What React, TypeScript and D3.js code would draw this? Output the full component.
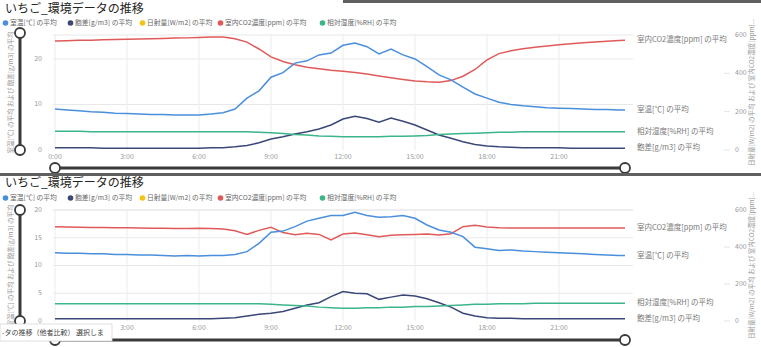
import React from 'react';
import * as d3 from 'd3';

const HOURS = [0, 0.5, 1, 1.5, 2, 2.5, 3, 3.5, 4, 4.5, 5, 5.5, 6, 6.5, 7, 7.5, 8, 8.5, 9, 9.5, 10, 10.5, 11, 11.5, 12, 12.5, 13, 13.5, 14, 14.5, 15, 15.5, 16, 16.5, 17, 17.5, 18, 18.5, 19, 19.5, 20, 20.5, 21, 21.5, 22, 22.5, 23, 23.5, 23.75];
const X_TICKS = [0, 3, 6, 9, 12, 15, 18, 21];
const X_TICK_LABELS = ['0:00', '3:00', '6:00', '9:00', '12:00', '15:00', '18:00', '21:00'];
const RIGHT_TICKS = [0, 200, 400, 600];

const TITLE = 'いちご_環境データの推移';
const LEGEND = ['室温[℃] の平均', '飽差[g/m3] の平均', '日射量[W/m2] の平均', '室内CO2濃度[ppm] の平均', '相対湿度[%RH] の平均'];
const LEGEND_X = [3, 68, 140, 218, 320];
const SERIES_LABELS = { temp: '室温[℃] の平均', def: '飽差[g/m3] の平均', co2: '室内CO2濃度[ppm] の平均', rh: '相対湿度[%RH] の平均' };
const LEFT_TITLE = '室温[℃] の平均 および 飽差[g/m3] の平均';
const RIGHT_TITLE = '日射量[W/m2] の平均 および 室内CO2濃度[ppm]...';
const TOOLTIP = '-タの推移（他者比較） 選択しま';

// Chart 1
const C1_TEMP = [9.0, 8.8, 8.6, 8.4, 8.3, 8.1, 8.0, 7.9, 7.8, 7.8, 7.7, 7.7, 7.7, 7.9, 8.2, 9.0, 11.4, 13.0, 16.0, 17.0, 19.1, 19.6, 20.9, 21.3, 23.0, 23.5, 22.7, 21.1, 22.2, 20.9, 20.0, 18.3, 16.5, 15.4, 13.8, 12.3, 11.4, 10.5, 10.0, 9.7, 9.5, 9.3, 9.2, 9.1, 9.0, 8.9, 8.9, 8.8, 8.8];
const C1_DEF = [0.5, 0.5, 0.5, 0.5, 0.4, 0.4, 0.4, 0.4, 0.4, 0.4, 0.4, 0.4, 0.4, 0.5, 0.5, 0.7, 1.0, 1.6, 2.4, 2.9, 3.5, 4.0, 4.6, 5.5, 6.8, 7.4, 6.9, 6.1, 7.0, 6.3, 5.5, 4.4, 3.3, 2.6, 1.8, 1.2, 0.9, 0.7, 0.6, 0.5, 0.5, 0.5, 0.5, 0.4, 0.4, 0.4, 0.4, 0.4, 0.4];
const C1_CO2 = [569, 570, 572, 573, 575, 576, 578, 579, 581, 582, 584, 585, 587, 589, 590, 580, 563, 527, 486, 462, 445, 432, 424, 416, 411, 404, 396, 386, 377, 368, 360, 356, 354, 362, 385, 420, 470, 503, 518, 528, 536, 543, 549, 554, 559, 563, 567, 571, 573];
const C1_RH = [4.1, 4.1, 4.1, 4.0, 4.0, 4.0, 4.0, 4.0, 4.0, 4.0, 4.0, 4.0, 4.0, 4.0, 4.0, 4.0, 4.0, 3.9, 3.8, 3.6, 3.4, 3.3, 3.1, 3.0, 2.9, 2.9, 2.9, 2.9, 3.0, 3.0, 3.1, 3.2, 3.4, 3.5, 3.6, 3.7, 3.8, 3.9, 3.9, 4.0, 4.0, 4.0, 4.0, 4.0, 4.0, 4.0, 4.0, 4.0, 4.0];

// Chart 2
const C2_TEMP = [12.3, 12.2, 12.2, 12.1, 12.1, 12.0, 12.0, 11.9, 11.9, 11.8, 11.7, 11.8, 11.7, 11.8, 11.8, 12.0, 12.5, 14.0, 16.0, 16.2, 17.0, 18.0, 18.5, 19.0, 19.0, 19.6, 19.0, 18.7, 18.8, 19.0, 18.5, 17.3, 16.4, 16.0, 15.2, 13.3, 13.0, 12.7, 12.8, 12.6, 12.5, 12.4, 12.3, 12.2, 12.1, 12.0, 11.9, 11.8, 11.8];
const C2_DEF = [0.4, 0.4, 0.4, 0.4, 0.4, 0.4, 0.4, 0.4, 0.4, 0.4, 0.4, 0.4, 0.4, 0.4, 0.5, 0.6, 0.9, 1.2, 1.4, 1.7, 2.3, 2.9, 3.3, 4.4, 5.3, 5.0, 4.9, 3.9, 4.3, 4.7, 4.5, 4.0, 3.3, 2.5, 1.4, 0.9, 0.6, 0.5, 0.5, 0.4, 0.4, 0.4, 0.4, 0.4, 0.4, 0.4, 0.4, 0.4, 0.4];
const C2_CO2 = [509, 508, 507, 506, 505, 504, 504, 503, 502, 501, 500, 500, 502, 500, 497, 488, 468, 490, 506, 478, 466, 474, 468, 438, 470, 476, 466, 455, 463, 466, 468, 470, 465, 472, 510, 518, 508, 504, 503, 503, 503, 503, 503, 503, 503, 503, 503, 503, 503];
const C2_RH = [3.1, 3.1, 3.1, 3.1, 3.1, 3.1, 3.1, 3.1, 3.1, 3.1, 3.1, 3.1, 3.1, 3.1, 3.1, 3.1, 3.1, 3.1, 3.0, 2.9, 2.8, 2.7, 2.5, 2.4, 2.3, 2.3, 2.4, 2.4, 2.5, 2.5, 2.6, 2.6, 2.7, 2.8, 2.9, 3.0, 3.0, 3.1, 3.1, 3.1, 3.2, 3.2, 3.2, 3.2, 3.2, 3.2, 3.2, 3.2, 3.2];

const COLORS = { temp: '#4a8fdb', def: '#3a4878', sun: '#f3c512', co2: '#e05a5a', rh: '#3bb58a' };
const LEGEND_COLORS = [COLORS.temp, COLORS.def, COLORS.sun, COLORS.co2, COLORS.rh];
const FONT = "'Noto Sans CJK JP', 'Noto Sans', sans-serif";

const xScale = d3.scaleLinear().domain([0, 23.75]).range([55, 625]);

type ChartProps = {
  titleY: number; legendY: number; top: number; bottom: number; leftMax: number; leftTicks: number[];
  xLabelY: number; temp: number[]; def: number[]; co2: number[]; rh: number[];
  vSliderTop: number; hSliderY: number; hideFirstX?: boolean;
};

function Chart(p: ChartProps) {
  const yL = d3.scaleLinear().domain([0, p.leftMax]).range([p.bottom, p.top]);
  const yR = d3.scaleLinear().domain([0, 600]).range([p.bottom, p.top]);
  const lineL = d3.line<number>().x((_, i) => xScale(HOURS[i])).y(d => yL(d));
  const lineR = d3.line<number>().x((_, i) => xScale(HOURS[i])).y(d => yR(d));
  const last = HOURS.length - 1;
  const mid = (p.top + p.bottom) / 2;
  const labels = [
    { t: SERIES_LABELS.co2, y: yR(p.co2[last]) },
    { t: SERIES_LABELS.temp, y: yL(p.temp[last]) },
    { t: SERIES_LABELS.rh, y: yL(p.rh[last]) },
    { t: SERIES_LABELS.def, y: yL(p.def[last]) },
  ];
  return (
    <g>
      <text x={5} y={p.titleY} fontSize={12} fill="#252423" dominantBaseline="middle" fontFamily={FONT}>{TITLE}</text>
      {LEGEND.map((l, i) => (
        <g key={l}>
          <circle cx={LEGEND_X[i] + 2.5} cy={p.legendY} r={2.8} fill={LEGEND_COLORS[i]} />
          <text x={LEGEND_X[i] + 7} y={p.legendY} fontSize={6.8} fill="#666" dominantBaseline="middle" fontFamily={FONT}>{l}</text>
        </g>
      ))}
      {p.leftTicks.filter(t => t > 0).map(t => (
        <line key={'h' + t} x1={53} x2={633} y1={yL(t)} y2={yL(t)} stroke="#e8e8e8" strokeWidth={1} />
      ))}
      <line x1={53} x2={633} y1={p.top} y2={p.top} stroke="#e8e8e8" strokeWidth={1} />
      {X_TICKS.map(t => (
        <line key={'v' + t} x1={xScale(t)} x2={xScale(t)} y1={p.top} y2={p.bottom} stroke="#ececec" strokeWidth={1} />
      ))}
      {p.leftTicks.map(t => (
        <text key={'lt' + t} x={42} y={yL(t)} fontSize={7} fill="#999" textAnchor="end" dominantBaseline="middle" fontFamily={FONT}>{t}</text>
      ))}
      {RIGHT_TICKS.map(t => (
        <g key={'rt' + t}>
          {t < 600 && <line x1={724} x2={730} y1={yR(t)} y2={yR(t)} stroke="#e4e4e4" />}
          <text x={735} y={yR(t)} fontSize={7} fill="#999" dominantBaseline="middle" fontFamily={FONT}>{t}</text>
        </g>
      ))}
      {X_TICKS.map((t, i) => (p.hideFirstX && i === 0) ? null : (
        <text key={'xl' + t} x={xScale(t)} y={p.xLabelY} fontSize={7} fill="#999" textAnchor="middle" dominantBaseline="middle" fontFamily={FONT}>{X_TICK_LABELS[i]}</text>
      ))}
      <text transform={`translate(11,${mid}) rotate(-90)`} fontSize={6.5} fill="#999" textAnchor="middle" dominantBaseline="middle" fontFamily={FONT}>{LEFT_TITLE}</text>
      <text transform={`translate(752,${mid}) rotate(-90)`} fontSize={6.5} fill="#999" textAnchor="middle" dominantBaseline="middle" fontFamily={FONT}>{RIGHT_TITLE}</text>
      <path d={lineL(p.def) || ''} fill="none" stroke={COLORS.def} strokeWidth={1.5} />
      <path d={lineL(p.rh) || ''} fill="none" stroke={COLORS.rh} strokeWidth={1.5} />
      <path d={lineR(p.co2) || ''} fill="none" stroke={COLORS.co2} strokeWidth={1.5} />
      <path d={lineL(p.temp) || ''} fill="none" stroke={COLORS.temp} strokeWidth={1.5} />
      {labels.map(l => (
        <text key={l.t} x={637} y={l.y} fontSize={7.5} fill="#777" dominantBaseline="middle" fontFamily={FONT}>{l.t}</text>
      ))}
      <line x1={20} x2={20} y1={p.vSliderTop} y2={p.bottom} stroke="#3a3a3a" strokeWidth={3} />
      <circle cx={20} cy={p.vSliderTop} r={5} fill="#fff" stroke="#3a3a3a" strokeWidth={1.8} />
      <circle cx={20} cy={p.bottom} r={5} fill="#fff" stroke="#3a3a3a" strokeWidth={1.8} />
      <line x1={55} x2={625} y1={p.hSliderY} y2={p.hSliderY} stroke="#3a3a3a" strokeWidth={3} />
      <circle cx={55} cy={p.hSliderY} r={5} fill="#fff" stroke="#3a3a3a" strokeWidth={1.8} />
      <circle cx={625} cy={p.hSliderY} r={5} fill="#fff" stroke="#3a3a3a" strokeWidth={1.8} />
    </g>
  );
}

export default function App() {
  return (
    <svg width={761} height={347} style={{ position: 'fixed', left: 0, top: 0, background: '#fff' }}>
      <rect x={0} y={0} width={761} height={347} fill="#fff" />
      <rect x={343} y={0} width={418} height={3} fill="#5f5f5f" />
      <Chart titleY={9.5} legendY={23} top={35} bottom={150} leftMax={25.27} leftTicks={[0, 10, 20]} xLabelY={157}
        temp={C1_TEMP} def={C1_DEF} co2={C1_CO2} rh={C1_RH} vSliderTop={33} hSliderY={168} />
      <rect x={0} y={173} width={761} height={3} fill="#5f5f5f" />
      <Chart titleY={184} legendY={198} top={210} bottom={321} leftMax={20} leftTicks={[0, 5, 10, 15, 20]} xLabelY={328}
        temp={C2_TEMP} def={C2_DEF} co2={C2_CO2} rh={C2_RH} vSliderTop={210} hSliderY={340} hideFirstX />
      <rect x={0} y={324} width={112} height={17} fill="#fff" stroke="#d8d8d8" strokeWidth={0.8} />
      <text x={2} y={333} fontSize={7} fill="#444" dominantBaseline="middle" fontFamily={FONT}>{TOOLTIP}</text>
    </svg>
  );
}
